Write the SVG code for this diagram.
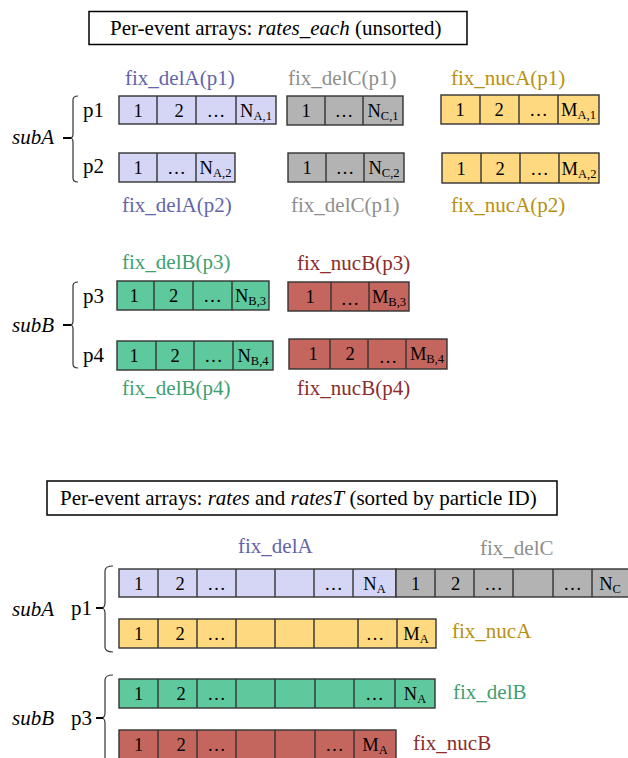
<svg xmlns="http://www.w3.org/2000/svg" width="628" height="758" viewBox="0 0 628 758">
<style>
text{font-family:"Liberation Serif","Times New Roman",serif;fill:#000}
.t{font-size:21px}
.lab{font-size:21px}
.it{font-style:italic}
.c{font-size:18.5px;text-anchor:middle}
.s{font-size:12.5px}
rect.box{fill:#fff;stroke:#000;stroke-width:1.5}
.cell{stroke:#333;stroke-width:1.4}
.pu{fill:#d5d5f5}.gr{fill:#b3b3b3}.ye{fill:#ffd97f}.gn{fill:#5ec99c}.rd{fill:#c5665e}
.dv{stroke:#333;stroke-width:1.4;fill:none}
.lpu{fill:#6464aa}.lgr{fill:#8e8e8e}.lye{fill:#b8900e}.lgn{fill:#3fa070}.lrd{fill:#8c2b2b}
.br{fill:none;stroke:#333;stroke-width:1.2}
.tk{stroke:#000;stroke-width:2}
</style>

<g id="title-top">
<rect class="box" x="89" y="11.5" width="378" height="33"/>
<text class="t" x="110" y="35">Per-event arrays: <tspan class="it">rates_each</tspan> (unsorted)</text>
</g>

<g id="labels-top">
<text class="lab lpu" x="125" y="85">fix_delA(p1)</text>
<text class="lab lgr" x="288" y="85">fix_delC(p1)</text>
<text class="lab lye" x="451" y="85">fix_nucA(p1)</text>
<text class="lab lpu" x="122" y="212">fix_delA(p2)</text>
<text class="lab lgr" x="291" y="212">fix_delC(p1)</text>
<text class="lab lye" x="451" y="212">fix_nucA(p2)</text>
<text class="lab lgn" x="122" y="269">fix_delB(p3)</text>
<text class="lab lrd" x="297" y="270">fix_nucB(p3)</text>
<text class="lab lgn" x="122" y="395">fix_delB(p4)</text>
<text class="lab lrd" x="297" y="395">fix_nucB(p4)</text>
</g>

<g id="side-top">
<text class="lab it" x="12" y="144">subA</text>
<text class="lab" x="83" y="117">p1</text>
<text class="lab" x="83" y="173">p2</text>
<text class="lab it" x="12" y="332">subB</text>
<text class="lab" x="83" y="303">p3</text>
<text class="lab" x="83" y="362">p4</text>
</g>

<g id="arr-delA-p1">
<rect class="cell pu" x="119" y="96" width="157" height="28"/>
<path class="dv" d="M157,96V124M196,96V124M236,96V124"/>
<text class="c" x="138" y="116.5">1</text><text class="c" x="179" y="116.5">2</text><text class="c" x="216" y="116.5">…</text>
<text class="c" x="256" y="116.5"><tspan>N</tspan><tspan class="s" dy="3">A,1</tspan></text>
</g>
<g id="arr-delA-p2">
<rect class="cell pu" x="119" y="153" width="116" height="29"/>
<path class="dv" d="M157,153V182M196,153V182"/>
<text class="c" x="138" y="174">1</text><text class="c" x="176.5" y="174">…</text>
<text class="c" x="215.5" y="174"><tspan>N</tspan><tspan class="s" dy="3">A,2</tspan></text>
</g>
<g id="arr-delC-p1">
<rect class="cell gr" x="287" y="96" width="116" height="29"/>
<path class="dv" d="M325,96V125M363,96V125"/>
<text class="c" x="306" y="117">1</text><text class="c" x="344" y="117">…</text>
<text class="c" x="383" y="117"><tspan>N</tspan><tspan class="s" dy="3">C,1</tspan></text>
</g>
<g id="arr-delC-p2">
<rect class="cell gr" x="288" y="153" width="116" height="29"/>
<path class="dv" d="M326,153V182M364,153V182"/>
<text class="c" x="307" y="174">1</text><text class="c" x="345" y="174">…</text>
<text class="c" x="384" y="174"><tspan>N</tspan><tspan class="s" dy="3">C,2</tspan></text>
</g>
<g id="arr-nucA-p1">
<rect class="cell ye" x="441" y="95" width="158" height="29"/>
<path class="dv" d="M480,95V124M519,95V124M558,95V124"/>
<text class="c" x="460" y="116">1</text><text class="c" x="499" y="116">2</text><text class="c" x="538.5" y="116">…</text>
<text class="c" x="578.5" y="116"><tspan>M</tspan><tspan class="s" dy="3">A,1</tspan></text>
</g>
<g id="arr-nucA-p2">
<rect class="cell ye" x="442" y="153" width="157" height="30"/>
<path class="dv" d="M481,153V183M520,153V183M559,153V183"/>
<text class="c" x="461" y="175">1</text><text class="c" x="500" y="175">2</text><text class="c" x="539.5" y="175">…</text>
<text class="c" x="579" y="175"><tspan>M</tspan><tspan class="s" dy="3">A,2</tspan></text>
</g>

<g id="arr-delB-p3">
<rect class="cell gn" x="117" y="281" width="152" height="29"/>
<path class="dv" d="M154,281V310M193,281V310M232,281V310"/>
<text class="c" x="134" y="302">1</text><text class="c" x="173.5" y="302">2</text><text class="c" x="212.5" y="302">…</text>
<text class="c" x="250.5" y="302"><tspan>N</tspan><tspan class="s" dy="3">B,3</tspan></text>
</g>
<g id="arr-delB-p4">
<rect class="cell gn" x="117" y="341" width="156" height="29"/>
<path class="dv" d="M156,341V370M194,341V370M233,341V370"/>
<text class="c" x="134" y="362">1</text><text class="c" x="175" y="362">2</text><text class="c" x="213.5" y="362">…</text>
<text class="c" x="253" y="362"><tspan>N</tspan><tspan class="s" dy="3">B,4</tspan></text>
</g>
<g id="arr-nucB-p3">
<rect class="cell rd" x="288" y="282" width="121" height="29"/>
<path class="dv" d="M331,282V311M369,282V311"/>
<text class="c" x="310" y="303">1</text><text class="c" x="350" y="305">…</text>
<text class="c" x="389" y="303"><tspan>M</tspan><tspan class="s" dy="3">B,3</tspan></text>
</g>
<g id="arr-nucB-p4">
<rect class="cell rd" x="289" y="339" width="158" height="30"/>
<path class="dv" d="M330,339V369M368,339V369M406,339V369"/>
<text class="c" x="313" y="360">1</text><text class="c" x="350" y="360">2</text><text class="c" x="388" y="363">…</text>
<text class="c" x="427" y="360"><tspan>M</tspan><tspan class="s" dy="3">B,4</tspan></text>
</g>

<g id="title-bottom">
<rect class="box" x="47" y="481" width="510" height="34"/>
<text class="t" x="60" y="505">Per-event arrays: <tspan class="it">rates</tspan> and <tspan class="it">ratesT</tspan> (sorted by particle ID)</text>
</g>

<g id="labels-bottom">
<text class="lab lpu" x="238" y="553">fix_delA</text>
<text class="lab lgr" x="480" y="555">fix_delC</text>
<text class="lab lye" x="452" y="638">fix_nucA</text>
<text class="lab lgn" x="453" y="699">fix_delB</text>
<text class="lab lrd" x="413" y="750">fix_nucB</text>
<text class="lab it" x="12" y="616">subA</text>
<text class="lab" x="71" y="615">p1</text>
<text class="lab it" x="12" y="725">subB</text>
<text class="lab" x="71" y="725">p3</text>
</g>

<g id="arr-rates-delA">
<rect class="cell pu" x="119" y="569" width="277" height="28"/>
<path class="dv" d="M158,569V597M197,569V597M236,569V597M275,569V597M314,569V597M353,569V597"/>
<text class="c" x="138.5" y="590">1</text><text class="c" x="180" y="590">2</text><text class="c" x="216.5" y="590">…</text>
<text class="c" x="333.5" y="590">…</text>
<text class="c" x="374.5" y="590"><tspan>N</tspan><tspan class="s" dy="3">A</tspan></text>
</g>
<g id="arr-rates-delC">
<rect class="cell gr" x="396" y="569" width="250" height="28"/>
<path class="dv" d="M435,569V597M474,569V597M513,569V597M553,569V597M592,569V597"/>
<text class="c" x="415.5" y="590">1</text><text class="c" x="455.5" y="590">2</text><text class="c" x="493.5" y="590">…</text>
<text class="c" x="572.5" y="590">…</text>
<text class="c" x="610" y="590"><tspan>N</tspan><tspan class="s" dy="3">C</tspan></text>
</g>
<g id="arr-rates-nucA">
<rect class="cell ye" x="119" y="619" width="317" height="29"/>
<path class="dv" d="M158,619V648M197,619V648M236,619V648M275,619V648M314,619V648M358,619V648M397,619V648"/>
<text class="c" x="138.5" y="640">1</text><text class="c" x="180" y="640">2</text><text class="c" x="216.5" y="640">…</text>
<text class="c" x="375" y="640">…</text>
<text class="c" x="416" y="640"><tspan>M</tspan><tspan class="s" dy="3">A</tspan></text>
</g>
<g id="arr-rates-delB">
<rect class="cell gn" x="119" y="679" width="316" height="29"/>
<path class="dv" d="M158,679V708M197,679V708M236,679V708M275,679V708M315,679V708M354,679V708M395,679V708"/>
<text class="c" x="138.5" y="700">1</text><text class="c" x="181" y="700">2</text><text class="c" x="216.5" y="700">…</text>
<text class="c" x="374.5" y="700">…</text>
<text class="c" x="415" y="700"><tspan>N</tspan><tspan class="s" dy="3">A</tspan></text>
</g>
<g id="arr-rates-nucB">
<rect class="cell rd" x="119" y="730" width="277" height="32"/>
<path class="dv" d="M158,730V762M197,730V762M236,730V762M275,730V762M315,730V762M354,730V762"/>
<text class="c" x="138.5" y="751">1</text><text class="c" x="181" y="751">2</text><text class="c" x="216.5" y="751">…</text>
<text class="c" x="334.5" y="751">…</text>
<text class="c" x="375" y="751"><tspan>M</tspan><tspan class="s" dy="3">A</tspan></text>
</g>

<g id="connectors">
<path class="br" d="M78,96Q73,96 73,100L73,134Q73,138 70,138Q73,138 73,142L73,178Q73,182 78,182"/>
<line class="tk" x1="63" y1="138" x2="71" y2="138"/>
<path class="br" d="M78,282Q73,282 73,286L73,321Q73,325 70,325Q73,325 73,329L73,364Q73,368 78,368"/>
<line class="tk" x1="63" y1="325" x2="71" y2="325"/>
<path class="br" d="M113,566Q105,566 105,571L105,603Q105,608 101,608Q105,608 105,613L105,647Q105,652 113,652"/>
<line class="tk" x1="96" y1="608" x2="103" y2="608"/>
<path class="br" d="M113,675Q105,675 105,680L105,713Q105,718 101,718Q105,718 105,723L105,765"/>
<line class="tk" x1="96" y1="718" x2="103" y2="718"/>
</g>
</svg>
